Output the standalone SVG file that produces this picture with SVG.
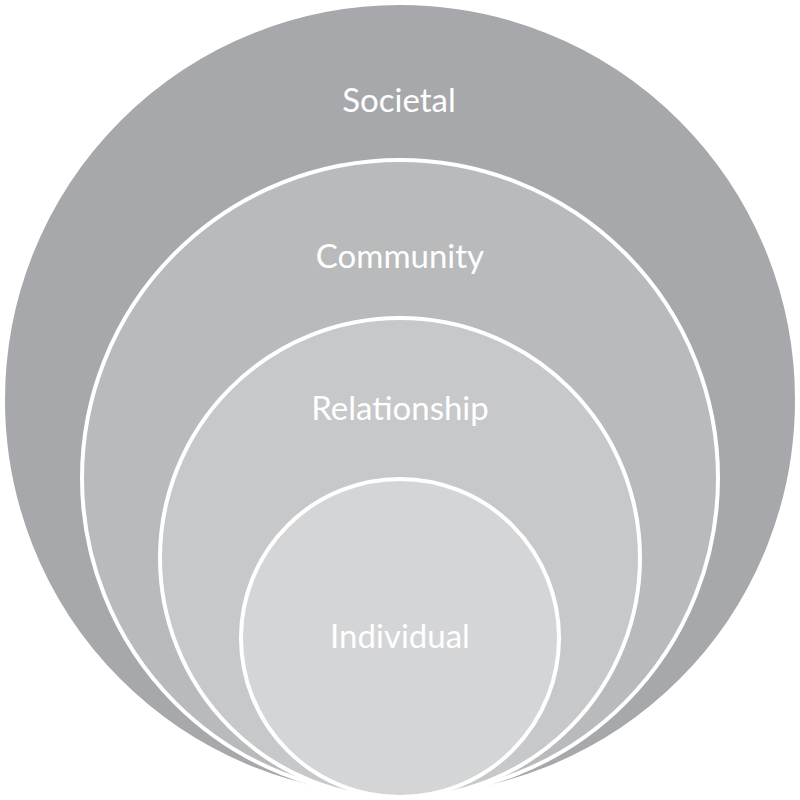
<svg xmlns="http://www.w3.org/2000/svg" width="800" height="800" viewBox="0 0 800 800">
<style>
.ring{stroke:#ffffff;stroke-width:4}
.lbl{font-family:Lato,"Open Sans","Liberation Sans",sans-serif;font-size:33px;fill:#ffffff;text-anchor:middle}
</style>
<rect width="800" height="800" fill="#ffffff"/>
<g id="societal">
<circle class="ring" cx="400" cy="400" r="397" fill="#a7a8ab" stroke="none"/>
<text class="lbl" x="399" y="112">Societal</text>
</g>
<g id="community">
<circle class="ring" cx="400" cy="478" r="318" fill="#b9babc"/>
<text class="lbl" x="400" y="268">Community</text>
</g>
<g id="relationship">
<circle class="ring" cx="400" cy="558" r="240" fill="#c7c8ca"/>
<text class="lbl" x="400" y="420">Relationship</text>
</g>
<g id="individual">
<circle class="ring" cx="400" cy="638" r="159" fill="#d4d5d7"/>
<text class="lbl" x="400" y="648">Individual</text>
</g>
<g id="connectors"/>
</svg>
